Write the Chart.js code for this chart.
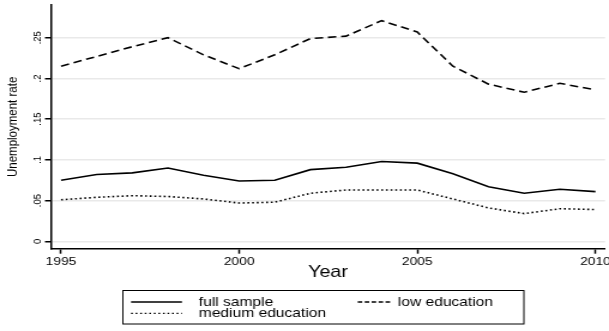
<!DOCTYPE html>
<html>
<head>
<meta charset="utf-8">
<script src="https://cdn.jsdelivr.net/npm/chart.js@4.4.1/dist/chart.umd.min.js"></script>
<style>
  html, body { margin: 0; padding: 0; background: #fff; overflow: hidden; }
  /* the reference figure is stretched sideways, so draw narrow and scale the box */
  #wrap { width: 508px; height: 331px; transform: scaleX(1.1988); transform-origin: 0 0; }
</style>
</head>
<body>
<div id="wrap"><canvas id="chart"></canvas></div>
<script>
// values
const years = [1995, 1996, 1997, 1998, 1999, 2000, 2001, 2002, 2003, 2004, 2005, 2006, 2007, 2008, 2009, 2010];
const fullSample = [0.075, 0.082, 0.084, 0.090, 0.081, 0.074, 0.075, 0.088, 0.091, 0.098, 0.096, 0.083, 0.067, 0.059, 0.064, 0.061];
const lowEducation = [0.215, 0.227, 0.239, 0.250, 0.229, 0.212, 0.229, 0.249, 0.252, 0.271, 0.257, 0.215, 0.193, 0.183, 0.194, 0.186];
const mediumEducation = [0.051, 0.054, 0.056, 0.055, 0.052, 0.047, 0.048, 0.059, 0.063, 0.063, 0.063, 0.052, 0.041, 0.034, 0.040, 0.039];
const seriesLabels = ['full sample', 'low education', 'medium education'];
const xTicks = [1995, 2000, 2005, 2010];
const yTicks = [0, 0.05, 0.1, 0.15, 0.2, 0.25];

Chart.defaults.font.family = '"Liberation Sans", Arial, sans-serif';
Chart.defaults.color = '#000';

function toPoints(values) {
    return years.map((yr, i) => ({ x: yr, y: values[i] }));
}

// Stata style: ".25" instead of "0.25"
function stataNum(v) {
    const s = String(Number(v.toFixed(2)));
    return s.replace(/^0\./, '.');
}

// boxed two-column legend under the axis title
const boxLegend = {
    id: 'boxLegend',
    afterDraw(chart) {
        const ctx = chart.ctx;
        const slots = [
            { x: 109.3, y: 302, len: 42.5, textX: 165.8, dash: [] },
            { x: 298.4, y: 302, len: 27, textX: 331.8, dash: [3.8, 2] },
            { x: 109.3, y: 313.4, len: 42.5, textX: 165.8, dash: [1.5, 2.3] }
        ];
        ctx.save();
        ctx.strokeStyle = '#000';
        ctx.lineWidth = 1;
        ctx.strokeRect(102.5, 290.5, 334.5, 33.5);
        ctx.font = '13px "Liberation Sans", Arial, sans-serif';
        ctx.textBaseline = 'middle';
        ctx.fillStyle = '#000';
        chart.data.datasets.forEach((ds, i) => {
            const s = slots[i];
            ctx.beginPath();
            ctx.setLineDash(s.dash);
            ctx.lineWidth = 1.4;
            ctx.moveTo(s.x, s.y);
            ctx.lineTo(s.x + s.len, s.y);
            ctx.stroke();
            ctx.setLineDash([]);
            ctx.fillText(ds.label, s.textX, s.y);
        });
        ctx.restore();
    }
};

new Chart(document.getElementById('chart'), {
    type: 'line',
    data: {
        datasets: [
            { label: seriesLabels[0], data: toPoints(fullSample), borderColor: '#000', borderWidth: 1.6, pointRadius: 0, tension: 0, fill: false },
            { label: seriesLabels[1], data: toPoints(lowEducation), borderColor: '#000', borderWidth: 1.6, borderDash: [7, 4], pointRadius: 0, tension: 0, fill: false },
            { label: seriesLabels[2], data: toPoints(mediumEducation), borderColor: '#000', borderWidth: 1.6, borderDash: [1.6, 2.3], pointRadius: 0, tension: 0, fill: false }
        ]
    },
    options: {
        responsive: true,
        maintainAspectRatio: false,
        animation: false,
        layout: { padding: { top: 5, right: 3.3, bottom: 0, left: 0 } },
        plugins: { legend: { display: false }, tooltip: { enabled: false } },
        scales: {
            x: {
                type: 'linear',
                min: 1994.717,
                max: 2010.27,
                afterBuildTicks: s => { s.ticks = xTicks.map(v => ({ value: v })); },
                afterFit: s => { s.height = 82.3; s.paddingLeft = 0; s.paddingRight = 0; },
                ticks: { color: '#000', font: { size: 11.5 }, padding: 1, maxRotation: 0, autoSkip: false, callback: v => String(v) },
                grid: { drawOnChartArea: false, drawTicks: true, tickLength: 5, tickColor: '#000', tickWidth: 1.5 },
                border: { color: '#000', width: 1.5 },
                title: { display: true, text: 'Year', color: '#000', font: { size: 16.5 }, padding: { top: 0, bottom: 48.9 } }
            },
            y: {
                min: -0.0091,
                max: 0.2902,
                afterBuildTicks: s => { s.ticks = yTicks.map(v => ({ value: v })); },
                afterFit: s => { s.width = 42.5; s.paddingTop = 0; s.paddingBottom = 0; },
                ticks: { color: '#000', font: { size: 9.5 }, minRotation: 90, maxRotation: 90, crossAlign: 'center', padding: 0, autoSkip: false, callback: v => stataNum(v) },
                grid: { color: '#e9e9e9', lineWidth: 1.5, tickLength: 5, tickColor: '#000', tickWidth: 1.5 },
                border: { color: '#000', width: 1.5 },
                title: { display: true, text: 'Unemployment rate', color: '#000', font: { size: 11.5 }, padding: { top: 4.2, bottom: 0 } }
            }
        }
    },
    plugins: [boxLegend]
});
</script>
</body>
</html>
